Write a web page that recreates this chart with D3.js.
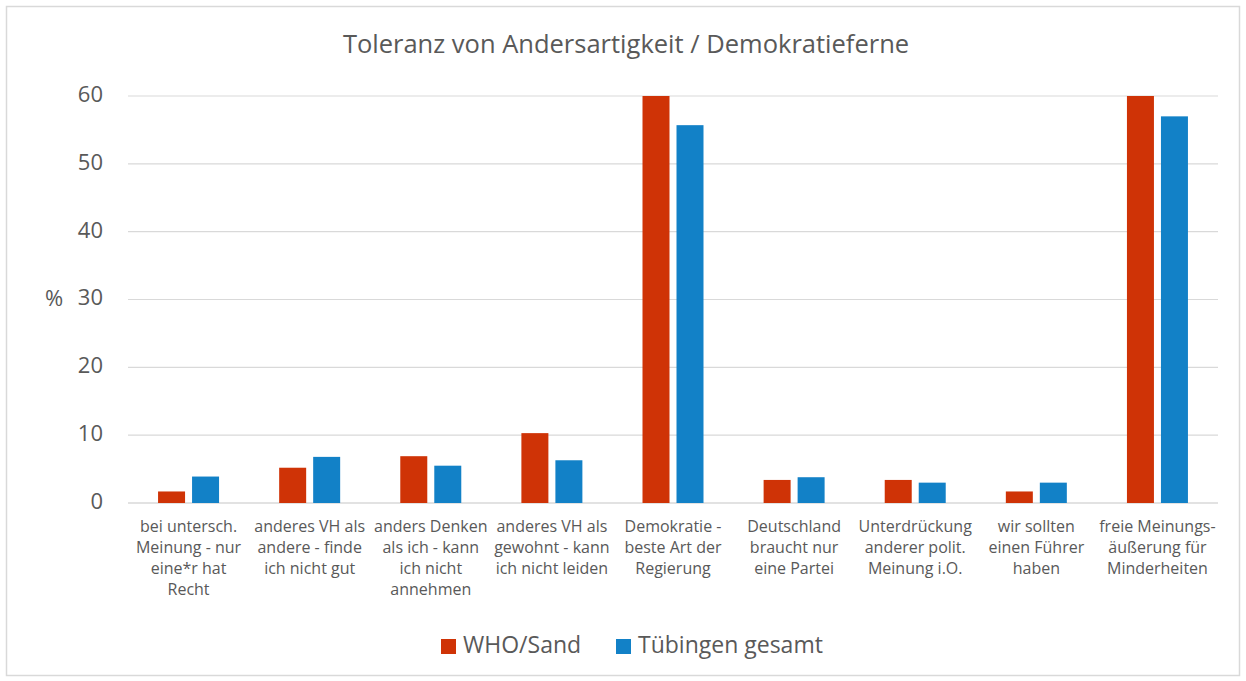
<!DOCTYPE html>
<html>
<head>
<meta charset="utf-8">
<script src="https://cdn.jsdelivr.net/npm/d3@7"></script>
<style>
  body { margin: 0; background: #fff; }
  text { font-family: 'Open Sans', sans-serif; fill: #595959; }
</style>
</head>
<body>
<div id="chart"></div>
<script>
const categories = [
  ['bei untersch.', 'Meinung - nur', 'eine*r hat', 'Recht'],
  ['anderes VH als', 'andere - finde', 'ich nicht gut'],
  ['anders Denken', 'als ich - kann', 'ich nicht', 'annehmen'],
  ['anderes VH als', 'gewohnt - kann', 'ich nicht leiden'],
  ['Demokratie -', 'beste Art der', 'Regierung'],
  ['Deutschland', 'braucht nur', 'eine Partei'],
  ['Unterdrückung', 'anderer polit.', 'Meinung i.O.'],
  ['wir sollten', 'einen Führer', 'haben'],
  ['freie Meinungs-', 'äußerung für', 'Minderheiten']
];
const seriesNames = ['WHO/Sand', 'Tübingen gesamt'];
const whoSand = [1.7, 5.2, 6.9, 10.3, 64, 3.4, 3.4, 1.7, 66];
const tuebingen = [3.9, 6.8, 5.5, 6.3, 55.7, 3.8, 3.0, 3.0, 57.0];
const yTicks = [0, 10, 20, 30, 40, 50, 60];
const colors = ['#CF3306', '#1281C7'];

const width = 1246, height = 681;
const plot = {left: 128, right: 1218, top: 96, bottom: 503};

const svg = d3.select('#chart').append('svg')
  .attr('width', width)
  .attr('height', height);

// outer frame
svg.append('rect')
  .attr('x', 6.5).attr('y', 6.5)
  .attr('width', 1233).attr('height', 669)
  .attr('fill', '#fff')
  .attr('stroke', '#D9D9D9')
  .attr('stroke-width', 1.5);

svg.append('text')
  .attr('x', 626).attr('y', 46)
  .attr('text-anchor', 'middle')
  .attr('dominant-baseline', 'middle')
  .attr('font-size', '25.5px')
  .text('Toleranz von Andersartigkeit / Demokratieferne');

const x0 = d3.scaleBand()
  .domain(d3.range(categories.length))
  .range([plot.left, plot.right]);

const x1 = d3.scaleBand()
  .domain(seriesNames)
  .range([0, x0.bandwidth()])
  .paddingInner(0.206)
  .paddingOuter(0.884);

const y = d3.scaleLinear()
  .domain([0, 60])
  .range([plot.bottom, plot.top]);

// gridlines
svg.append('g')
  .selectAll('line')
  .data(yTicks)
  .join('line')
  .attr('x1', plot.left).attr('x2', plot.right)
  .attr('y1', d => y(d)).attr('y2', d => y(d))
  .attr('stroke', '#D9D9D9')
  .attr('stroke-width', d => d === 0 ? 1.5 : 1.2);

// y tick labels
svg.append('g')
  .selectAll('text')
  .data(yTicks)
  .join('text')
  .attr('x', 103)
  .attr('y', d => y(d))
  .attr('text-anchor', 'end')
  .attr('dominant-baseline', 'middle')
  .attr('font-size', '22px')
  .text(d => d);

svg.append('text')
  .attr('x', 54).attr('y', 300)
  .attr('text-anchor', 'middle')
  .attr('dominant-baseline', 'middle')
  .attr('font-size', '22px')
  .text('%');

svg.append('defs').append('clipPath')
  .attr('id', 'plotclip')
  .append('rect')
  .attr('x', plot.left).attr('y', plot.top)
  .attr('width', plot.right - plot.left)
  .attr('height', plot.bottom - plot.top);

const rows = categories.map((c, i) => ({
  i,
  vals: [whoSand[i], tuebingen[i]]
}));

const groups = svg.append('g')
  .attr('clip-path', 'url(#plotclip)')
  .selectAll('g')
  .data(rows)
  .join('g')
  .attr('transform', d => `translate(${x0(d.i)},0)`);

groups.selectAll('rect')
  .data(d => d.vals.map((v, k) => ({k, v})))
  .join('rect')
  .attr('x', d => x1(seriesNames[d.k]))
  .attr('y', d => y(d.v))
  .attr('width', x1.bandwidth())
  .attr('height', d => y(0) - y(d.v))
  .attr('fill', d => colors[d.k]);

// category labels
const labels = svg.append('g')
  .selectAll('text')
  .data(categories)
  .join('text')
  .attr('text-anchor', 'middle')
  .attr('font-size', '16px');

labels.selectAll('tspan')
  .data((d, i) => d.map(line => ({line, i})))
  .join('tspan')
  .attr('x', d => x0(d.i) + x0.bandwidth() / 2)
  .attr('y', (d, j) => 532 + j * 21)
  .text(d => d.line);

// legend
const legendX = [441, 616];
const legend = svg.append('g')
  .selectAll('g')
  .data(seriesNames)
  .join('g')
  .attr('transform', (d, i) => `translate(${legendX[i]},639)`);

legend.append('rect')
  .attr('width', 15).attr('height', 15)
  .attr('fill', (d, i) => colors[i]);

legend.append('text')
  .attr('x', 22).attr('y', 8)
  .attr('dominant-baseline', 'middle')
  .attr('font-size', '23px')
  .text(d => d);
</script>
</body>
</html>
